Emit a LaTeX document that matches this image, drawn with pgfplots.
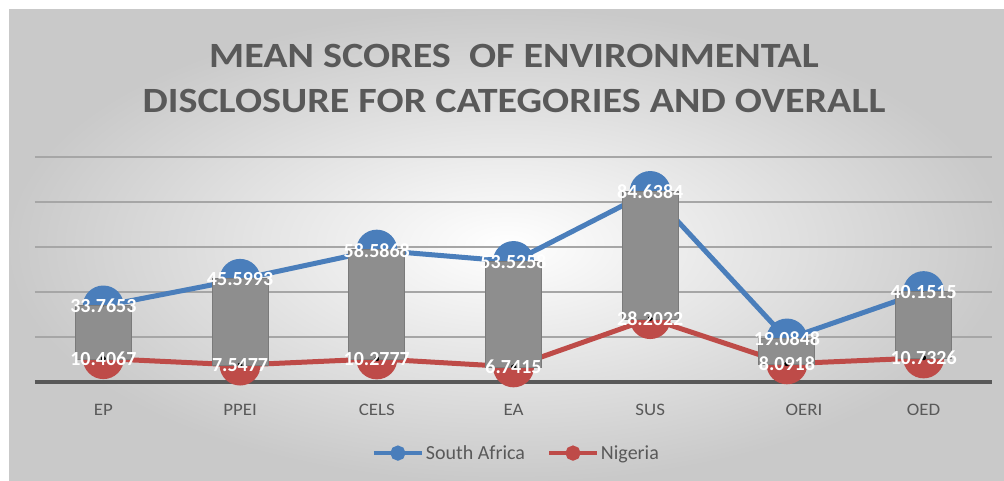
\documentclass[border=0pt]{standalone}
\usepackage{pgfplots}
\pgfplotsset{compat=1.18}
\usepackage{pgfplotstable}
\usepackage{fontspec}
\setmainfont{Carlito}
\newfontfamily\widefont[FakeStretch=1.13]{Carlito}
\newfontfamily\tickfont[FakeStretch=1.08]{Carlito}
\definecolor{sablue}{HTML}{4A7EBB}
\definecolor{ngred}{HTML}{BE4B48}
\definecolor{barfill}{HTML}{8E8E8E}
\definecolor{baredge}{HTML}{7A7A7A}
\definecolor{txtgray}{HTML}{595959}
\definecolor{gridgray}{HTML}{A6A6A6}

\pgfplotstableread{
x sa ng
0 33.7653 10.4067
1 45.5993 7.5477
2 58.5868 10.2777
3 53.5258 6.7415
4 84.6384 28.2022
5 19.0848 8.0918
6 40.1515 10.7326
}\data

\pgfplotsset{base/.style={
  at={(35pt,99pt)}, anchor=south west, scale only axis,
  width=957pt, height=225pt,
  xmin=-0.5, xmax=6.5, ymin=0, ymax=100,
  clip=false, axis line style={draw=none}, major tick length=0pt}}

\begin{document}
\begin{tikzpicture}[x=1pt,y=1pt]
\useasboundingbox (0,0) rectangle (1004,481);
\fill[white] (0,0) rectangle (1004,481);
\shade[inner color=white, outer color=gray!42] (9,0) rectangle (1004,471);
\node[font=\widefont\bfseries\fontsize{35.5}{45}\selectfont, text=txtgray, align=center] at (514,403) {MEAN SCORES\ \ OF ENVIRONMENTAL\\DISCLOSURE FOR CATEGORIES AND OVERALL};
\begin{axis}[
  base,
  ytick={20,40,60,80,100}, yticklabels={},
  ymajorgrids, grid style={line width=2pt, color=gridgray},
  extra y ticks={0}, extra y tick labels={},
  extra y tick style={grid style={line width=3.5pt, color=txtgray}},
  xtick={0,1,2,3,4,5,6},
  xticklabels={EP,PPEI,CELS,EA,SUS,\hspace*{34pt}OERI,OED},
  xticklabel style={font=\tickfont\fontsize{17.5}{17.5}\selectfont, text=txtgray, anchor=base, yshift=-34pt},
  legend style={at={(0.503,-0.316)}, anchor=center, draw=none, fill=none,
    font=\fontsize{20}{20}\selectfont, text=txtgray,
    /tikz/every even column/.append style={column sep=20pt}},
  legend columns=2,
  legend image code/.code={\draw[#1, line width=4pt] (0pt,0pt) -- (48pt,0pt); \fill[#1] (24pt,0pt) circle (5pt);},
]
\addplot[sablue, line width=5pt, mark=*, mark size=18pt, mark options={solid, draw=none}] table[x=x, y=sa] {\data};
\addlegendentry{South Africa}
\addplot[ngred, line width=5pt, mark=*, mark size=18pt, mark options={solid, draw=none}] table[x=x, y=ng] {\data};
\addlegendentry{Nigeria}
\end{axis}
\begin{axis}[base, xtick=\empty, ytick=\empty]
% up-down bars
\addplot[only marks, mark=none,
  error bars/.cd, y dir=plus, y explicit, error mark=none,
  error bar style={line width=57pt, color=baredge, shorten <=-1pt, shorten >=-1pt}]
  table[x=x, y=ng, y error expr=\thisrow{sa}-\thisrow{ng}] {\data};
\addplot[only marks, mark=none,
  error bars/.cd, y dir=plus, y explicit, error mark=none,
  error bar style={line width=55pt, color=barfill}]
  table[x=x, y=ng, y error expr=\thisrow{sa}-\thisrow{ng}] {\data};
\end{axis}
\begin{axis}[base, xtick=\empty, ytick=\empty]
% data labels
\addplot[only marks, mark=*, mark size=0.1pt, mark options={draw=none, fill=none},
  point meta=explicit symbolic, nodes near coords, nodes near coords align={center},
  every node near coord/.append style={font=\bfseries\fontsize{20}{20}\selectfont, text=white, anchor=center, inner sep=0pt}]
  table[x=x, y=sa, meta=sa] {\data};
\addplot[only marks, mark=*, mark size=0.1pt, mark options={draw=none, fill=none},
  point meta=explicit symbolic, nodes near coords, nodes near coords align={center},
  every node near coord/.append style={font=\bfseries\fontsize{20}{20}\selectfont, text=white, anchor=center, inner sep=0pt}]
  table[x=x, y=ng, meta=ng] {\data};
\end{axis}
\end{tikzpicture}
\end{document}
